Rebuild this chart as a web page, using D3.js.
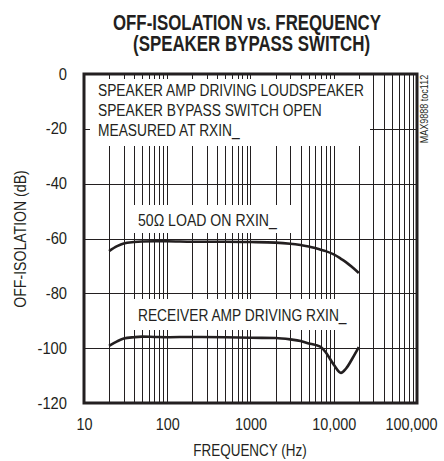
<!DOCTYPE html>
<html>
<head>
<meta charset="utf-8">
<script src="https://cdn.jsdelivr.net/npm/d3@7/dist/d3.min.js"></script>
<style>
  html, body { margin: 0; padding: 0; background: #fff; }
  svg { display: block; }
  text { font-family: 'Liberation Sans Narrow', 'Arial Narrow', 'Liberation Sans', Arial, sans-serif; fill: #231f20; }
</style>
</head>
<body>
<svg id="chart" width="444" height="461"></svg>
<script>
// Frequency points (Hz) shared by both measured traces
const frequencies = [20, 25, 30, 40, 50, 70, 100, 200, 500, 1000, 2000, 3000, 4000, 5000, 6000, 7000, 8000, 10000, 12200, 14000, 17000, 20000];
// Off-isolation (dB), 50 ohm load on RXIN_
const load50Ohm = [-64.6, -62.8, -61.8, -61.3, -61.1, -61.0, -61.0, -61.2, -61.2, -61.3, -61.5, -61.9, -62.4, -62.9, -63.5, -64.1, -64.6, -65.8, -67.4, -68.6, -70.7, -72.6];
// Off-isolation (dB), receiver amp driving RXIN_
const receiverAmp = [-99.2, -97.5, -96.5, -96.0, -95.8, -95.9, -96.0, -95.9, -96.0, -96.2, -96.3, -96.8, -97.4, -98.3, -98.8, -99.6, -101.5, -106.0, -109.0, -107.5, -103.4, -99.6];

const xTickValues = [10, 100, 1000, 10000, 100000];
const xTickLabels = ["10", "100", "1000", "10,000", "100,000"];
const yTickValues = [0, -20, -40, -60, -80, -100, -120];
const yTickLabels = ["0", "-20", "-40", "-60", "-80", "-100", "-120"];

const titleLines = ["OFF-ISOLATION vs. FREQUENCY", "(SPEAKER BYPASS SWITCH)"];
const noteLines = ["SPEAKER AMP DRIVING LOUDSPEAKER", "SPEAKER BYPASS SWITCH OPEN", "MEASURED AT RXIN_"];
const curveLabels = ["50\u03A9 LOAD ON RXIN_", "RECEIVER AMP DRIVING RXIN_"];

const svg = d3.select("#chart");
const ink = "#231f20";
const plot = { left: 84, right: 417, top: 74, bottom: 403 };

const x = d3.scaleLog().domain([10, 100000]).range([plot.left, plot.right]);
const y = d3.scaleLinear().domain([-120, 0]).range([plot.bottom, plot.top]);

// Squeeze text horizontally to get a condensed face from the regular one
function condense(sel, factor) {
  sel.each(function () {
    const w = this.getComputedTextLength();
    d3.select(this).attr("textLength", w * factor).attr("lengthAdjust", "spacingAndGlyphs");
  });
  return sel;
}

// Title: bold, tall and condensed
const titlePos = [{ x: 247, y: 30, w: 268 }, { x: 251.5, y: 50.5, w: 237 }];
svg.append("g").selectAll("text").data(titleLines).join("text")
  .attr("transform", (d, i) => `translate(${titlePos[i].x},${titlePos[i].y}) scale(1,1.12)`)
  .attr("text-anchor", "middle")
  .attr("font-size", 20).attr("font-weight", "bold")
  .attr("textLength", (d, i) => titlePos[i].w)
  .attr("lengthAdjust", "spacingAndGlyphs")
  .text(d => d);

// Log grid: vertical lines at every 1..9 x decade
const gridFreqs = [];
for (let e = 1; e <= 4; e++) for (let m = 1; m <= 9; m++) gridFreqs.push(m * Math.pow(10, e));
const grid = svg.append("g").attr("stroke", ink).attr("stroke-width", 1);
grid.selectAll("line.v").data(gridFreqs.filter(f => f > 10)).join("line")
  .attr("class", "v")
  .attr("x1", d => Math.round(x(d)) + 0.5).attr("x2", d => Math.round(x(d)) + 0.5)
  .attr("y1", plot.top).attr("y2", plot.bottom);
grid.selectAll("line.h").data(yTickValues.filter(v => v > -120 && v < 0)).join("line")
  .attr("class", "h")
  .attr("x1", plot.left).attr("x2", plot.right)
  .attr("y1", d => Math.round(y(d)) + 0.5).attr("y2", d => Math.round(y(d)) + 0.5);

// White label boxes that mask the grid
const boxes = [
  { x0: 90, x1: 370, y0: 79, y1: 146 },
  { x0: 130, x1: 293, y0: 205, y1: 233 },
  { x0: 130, x1: 353, y0: 299, y1: 330 }
];
svg.append("g").selectAll("rect").data(boxes).join("rect")
  .attr("x", d => d.x0).attr("y", d => d.y0)
  .attr("width", d => d.x1 - d.x0).attr("height", d => d.y1 - d.y0)
  .attr("fill", "#fff");

// Notes inside the plot
svg.append("g").selectAll("text").data(noteLines).join("text")
  .attr("x", 98).attr("y", (d, i) => 96 + i * 20)
  .attr("font-size", 16)
  .text(d => d)
  .call(condense, 0.86);
svg.append("text").attr("x", 138).attr("y", 226).attr("font-size", 16).text(curveLabels[0]).call(condense, 0.88);
svg.append("text").attr("x", 138).attr("y", 321).attr("font-size", 16).text(curveLabels[1]).call(condense, 0.86);

// Measured traces
const line = d3.line().x((d, i) => x(frequencies[i])).y(d => y(d)).curve(d3.curveMonotoneX);
svg.append("g").selectAll("path").data([load50Ohm, receiverAmp]).join("path")
  .attr("d", line)
  .attr("fill", "none").attr("stroke", ink).attr("stroke-width", 2.6)
  .attr("stroke-linejoin", "round");

// Frame
svg.append("rect")
  .attr("x", plot.left).attr("y", plot.top)
  .attr("width", plot.right - plot.left).attr("height", plot.bottom - plot.top)
  .attr("fill", "none").attr("stroke", ink).attr("stroke-width", 3);

// Axes (labels only; the frame and grid carry the lines)
const xAxis = d3.axisBottom(x).tickValues(xTickValues)
  .tickFormat((d, i) => xTickLabels[i]).tickSize(0).tickPadding(16);
const gx = svg.append("g").attr("transform", `translate(0,${plot.bottom})`).call(xAxis);
gx.select(".domain").remove();
gx.selectAll("text").attr("font-size", 16).attr("font-family", null).attr("fill", ink)
  .attr("dx", (d, i) => i === xTickValues.length - 1 ? -6 : 0)
  .call(condense, 0.9);

const yAxis = d3.axisLeft(y).tickValues(yTickValues)
  .tickFormat((d, i) => yTickLabels[i]).tickSize(0).tickPadding(17);
const gy = svg.append("g").attr("transform", `translate(${plot.left},0)`).call(yAxis);
gy.select(".domain").remove();
gy.selectAll("text").attr("font-size", 16).attr("font-family", null).attr("fill", ink)
  .call(condense, 0.92);

// Axis titles
svg.append("text").attr("x", 250).attr("y", 456).attr("text-anchor", "middle")
  .attr("font-size", 16).text("FREQUENCY (Hz)").call(condense, 0.84);
svg.append("text").attr("transform", "translate(26,239) rotate(-90)")
  .attr("text-anchor", "middle").attr("font-size", 16).text("OFF-ISOLATION (dB)").call(condense, 0.88);

// Figure tag
svg.append("text").attr("transform", "translate(428,109) rotate(-90)")
  .attr("text-anchor", "middle").attr("font-size", 10).text("MAX9888 toc112").call(condense, 0.9);
</script>
</body>
</html>
